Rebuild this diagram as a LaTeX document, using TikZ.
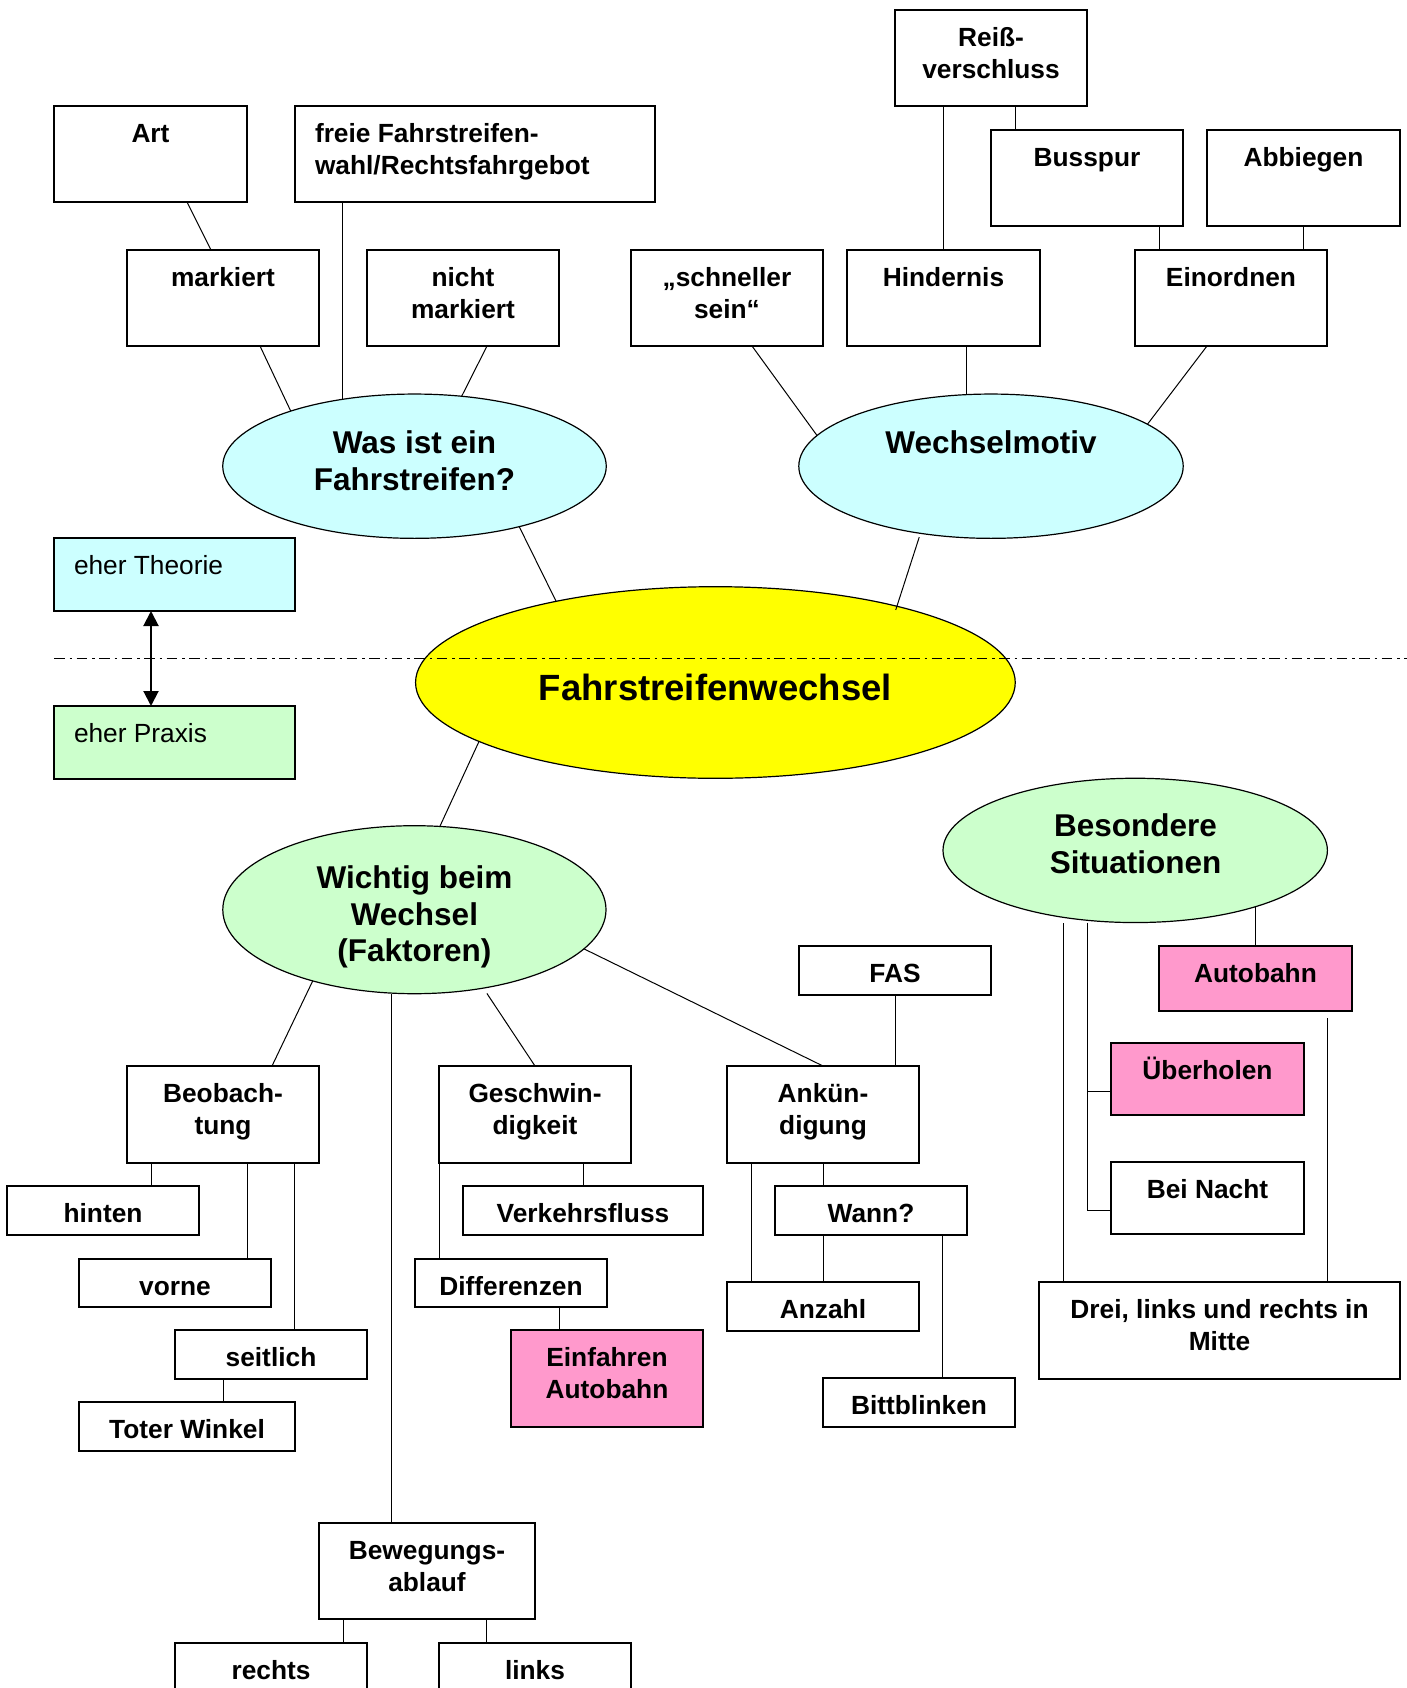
\documentclass[tikz,border=0pt]{standalone}
\usepackage{fontspec}
\setmainfont{Liberation Sans}
\usetikzlibrary{shapes.geometric,arrows.meta,calc}
\definecolor{lcyan}{HTML}{CCFFFF}
\definecolor{lgreen}{HTML}{CCFFCC}
\definecolor{pinkb}{HTML}{FF99CC}
\definecolor{yelc}{HTML}{FFFF00}
\newcommand\bxt[3]{\parbox[c][#2pt][t]{#1pt}{\vspace*{14pt}\centering\strut#3\par}}
\newcommand\bxl[3]{\parbox[c][#2pt][t]{#1pt}{\vspace*{14pt}\raggedright\leftskip=20pt\strut#3\par}}
\begin{document}
\begin{tikzpicture}[x=1pt,y=-1pt,
  bx/.style={draw, line width=1.2pt, inner sep=0pt, outer sep=0pt, anchor=north west, fill=white,
    font=\fontsize{26.3}{32}\selectfont\bfseries},
  bxn/.style={bx, font=\fontsize{26.3}{32}\selectfont},
  ell/.style={ellipse, draw, line width=1.2pt, inner sep=0pt, outer sep=0pt},
  etxt/.style={inner sep=0pt, align=center, font=\fontsize{31.5}{36.5}\selectfont\bfseries},
  conn/.style={line width=1pt}]
\useasboundingbox (0,0) rectangle (1407,1688);

% ellipses
\node[ell, fill=lcyan, minimum width=383.5, minimum height=144.3] (was) at (414.5,466.2) {};
\node[ell, fill=lcyan, minimum width=384.4, minimum height=144.3] (wm) at (991,466.2) {};
\node[ell, fill=yelc, minimum width=599.7, minimum height=191.6] (yel) at (715.4,682.5) {};
\node[ell, fill=lgreen, minimum width=383.2, minimum height=168] (wi) at (414.4,909.7) {};
\node[ell, fill=lgreen, minimum width=384.4, minimum height=144.3] (bs) at (1135.2,850.4) {};

\node[etxt, anchor=north] (was-t) at (414.5,428.2) {\strut Was ist ein\\Fahrstreifen?};
\node[etxt, anchor=base] (wm-t) at (991,453.7) {Wechselmotiv};
\node[etxt, anchor=base, font=\fontsize{36.5}{42}\selectfont\bfseries] (yel-t) at (715.4,700.3) {Fahrstreifenwechsel};
\node[etxt, anchor=north] (wi-t) at (414.4,862.8) {\strut Wichtig beim\\Wechsel\\(Faktoren)};
\node[etxt, anchor=north] (bs-t) at (1135.5,811) {\strut Besondere\\Situationen};

% boxes
\node[bx] (art) at (54,106) {\bxt{193}{96}{Art}};
\node[bx] (freie) at (295,106) {\bxl{360}{96}{freie Fahrstreifen-\\wahl/Rechtsfahrgebot}};
\node[bx] (mark) at (127,250) {\bxt{192}{96}{markiert}};
\node[bx] (nicht) at (367,250) {\bxt{192}{96}{nicht\\markiert}};
\node[bx] (schn) at (631,250) {\bxt{192}{96}{„schneller\\sein“}};
\node[bx] (hind) at (847,250) {\bxt{193}{96}{Hindernis}};
\node[bx] (reiss) at (895,10) {\bxt{192}{96}{Reiß-\\verschluss}};
\node[bx] (bus) at (991,130) {\bxt{192}{96}{Busspur}};
\node[bx] (abb) at (1207,130) {\bxt{193}{96}{Abbiegen}};
\node[bx] (ein) at (1135,250) {\bxt{192}{96}{Einordnen}};
\node[bxn, fill=lcyan] (theo) at (54,538) {\bxl{241}{73}{eher Theorie}};
\node[bxn, fill=lgreen] (prax) at (54,706) {\bxl{241}{73}{eher Praxis}};
\node[bx] (beob) at (127,1066) {\bxt{192}{97}{Beobach-\\tung}};
\node[bx] (hint) at (7,1186) {\bxt{192}{49}{hinten}};
\node[bx] (vorne) at (79,1259) {\bxt{192}{48}{vorne}};
\node[bx] (seit) at (175,1330) {\bxt{192}{49}{seitlich}};
\node[bx] (toter) at (79,1402) {\bxt{216}{49}{Toter Winkel}};
\node[bx] (bew) at (319,1523) {\bxt{216}{96}{Bewegungs-\\ablauf}};
\node[bx] (rechts) at (175,1643) {\bxt{192}{49}{rechts}};
\node[bx] (links) at (439,1643) {\bxt{192}{49}{links}};
\node[bx] (geschw) at (439,1066) {\bxt{192}{97}{Geschwin-\\digkeit}};
\node[bx] (verk) at (463,1186) {\bxt{240}{49}{Verkehrsfluss}};
\node[bx] (diff) at (415,1259) {\bxt{192}{48}{Differenzen}};
\node[bx, fill=pinkb] (einf) at (511,1330) {\bxt{192}{97}{Einfahren\\Autobahn}};
\node[bx] (ank) at (727,1066) {\bxt{192}{97}{Ankün-\\digung}};
\node[bx] (fas) at (799,946) {\bxt{192}{49}{FAS}};
\node[bx] (wann) at (775,1186) {\bxt{192}{49}{Wann?}};
\node[bx] (anz) at (727,1282) {\bxt{192}{49}{Anzahl}};
\node[bx] (bitt) at (823,1378) {\bxt{192}{49}{Bittblinken}};
\node[bx, fill=pinkb] (auto) at (1159,946) {\bxt{193}{65}{Autobahn}};
\node[bx, fill=pinkb] (ue) at (1111,1043) {\bxt{193}{72}{Überholen}};
\node[bx] (bn) at (1111,1162) {\bxt{193}{72}{Bei Nacht}};
\node[bx] (drei) at (1039,1282) {\bxt{361}{97}{Drei, links und rechts in\\Mitte}};

% connectors top
\draw[conn] ($(art.south west)+(133,0)$) -- ($(mark.north west)+(84,0)$);
\draw[conn] ($(mark.south west)+(133,0)$) -- (was.156);
\draw[conn] (was.137 |- freie.south) -- (was.137);
\draw[conn] ($(nicht.south west)+(120,0)$) -- (was.56);
\draw[conn] ($(schn.south west)+(121,0)$) -- (wm.170);
\draw[conn] (wm.109 |- hind.south) -- (wm.109);
\draw[conn] ($(ein.south west)+(72,0)$) -- (wm.15);
\draw[conn] (hind.north) -- (hind.north |- reiss.south);
\coordinate (c1) at ($(bus.north west)+(24.5,0)$);
\draw[conn] (c1) -- (c1 |- reiss.south);
\coordinate (c2) at ($(ein.north west)+(24,0)$);
\draw[conn] (c2) -- (c2 |- bus.south);
\coordinate (c3) at ($(ein.north east)+(-24,0)$);
\draw[conn] (c3) -- (c3 |- abb.south);

% central
\draw[conn] (was.-30) -- (yel.153);
\draw[conn] ([yshift=-4pt]wm.-137) -- ([yshift=-4pt]yel.23);
\draw[conn] (yel.194) -- (wi.73);

% Wichtig
\draw[conn] (wi.-145) -- ($(beob.north west)+(145,0)$);
\coordinate (w1) at ($(bew.north west)+(72,0)$);
\draw[conn] (w1) -- (w1 |- wi.south);
\draw[conn] ([yshift=-6pt]wi.-47) -- (geschw.north);
\draw[conn] (wi.-13) -- (ank.north);
\draw[conn] (fas.south) -- (fas.south |- ank.north);

\coordinate (b1) at ($(beob.south west)+(24.3,0)$);
\draw[conn] (b1) -- (b1 |- hint.north);
\coordinate (b2) at ($(beob.south west)+(120.3,0)$);
\draw[conn] (b2) -- (b2 |- vorne.north);
\coordinate (b3) at ($(beob.south east)+(-24.6,0)$);
\draw[conn] (b3) -- (b3 |- seit.north);
\coordinate (b4) at ($(seit.south west)+(48,0)$);
\draw[conn] (b4) -- (b4 |- toter.north);
\coordinate (b5) at ($(bew.south west)+(24,0)$);
\draw[conn] (b5) -- (b5 |- rechts.north);
\coordinate (b6) at ($(bew.south east)+(-48.6,0)$);
\draw[conn] (b6) -- (b6 |- links.north);
\coordinate (g1) at ($(geschw.south east)+(-48,0)$);
\draw[conn] (g1) -- (g1 |- verk.north);
\draw[conn] (geschw.south west) -- (geschw.south west |- diff.north);
\coordinate (g2) at ($(einf.north west)+(48.3,0)$);
\draw[conn] (g2) -- (g2 |- diff.south);
\draw[conn] (ank.south) -- (ank.south |- wann.north);
\coordinate (a1) at ($(ank.south west)+(24.6,0)$);
\draw[conn] (a1) -- (a1 |- anz.north);
\draw[conn] (anz.north) -- (anz.north |- wann.south);
\coordinate (a2) at ($(wann.south east)+(-24.6,0)$);
\draw[conn] (a2) -- (a2 |- bitt.north);

% Besondere
\draw[conn] (auto.north) -- (auto.north |- bs.-25);
\coordinate (s1) at ($(bn.west)+(-24,12.7)$);
\draw[conn] (s1 |- bs.south) -- (s1) -- (bn.west |- s1);
\coordinate (s2) at ($(ue.west)+(0,12)$);
\draw[conn] (s2) -- (s2 -| s1);
\coordinate (s3) at ($(drei.north west)+(24.3,0)$);
\draw[conn] (s3) -- (s3 |- bs.south);
\coordinate (s4) at ($(drei.north west)+(288,0)$);
\coordinate (s5) at ($(auto.south)+(0,7.3)$);
\draw[conn] (s4) -- (s4 |- s5);

% theory / practice
\draw[line width=2pt, {Triangle[length=15pt,width=15pt]}-{Triangle[length=15pt,width=15pt]}] ($(theo.south west)+(97,0)$) -- ($(prax.north west)+(97,0)$);
\coordinate (sepL) at (54,658);
\coordinate (sepR) at (1407,658);
\draw[line width=1pt, dash pattern=on 10.5pt off 5pt on 2.5pt off 4.5pt] (sepL) -- (sepR);
\end{tikzpicture}
\end{document}
